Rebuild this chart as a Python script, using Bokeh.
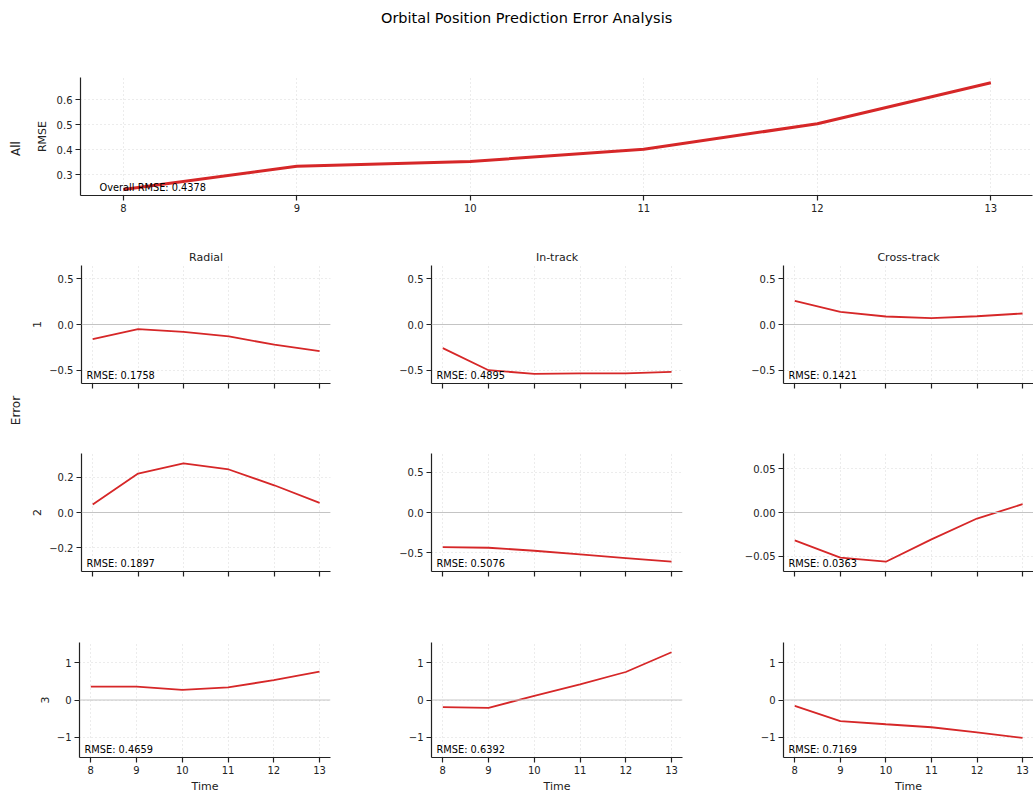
import math
from bokeh.plotting import figure
from bokeh.layouts import row, column
from bokeh.models import Range1d, FixedTicker, CustomJSTickFormatter, Span
from bokeh.core.properties import value
from bokeh.embed import file_html
from bokeh.resources import INLINE

# ---------------- data ----------------
title_text = "Orbital Position Prediction Error Analysis"
times = [8, 9, 10, 11, 12, 13]
rmse_all = [0.240, 0.333, 0.352, 0.401, 0.503, 0.667]
overall_label = "Overall RMSE: 0.4378"
components = ["Radial", "In-track", "Cross-track"]
row_names = ["1", "2", "3"]

radial_1 = [-0.16, -0.05, -0.08, -0.13, -0.22, -0.29]
intrack_1 = [-0.258, -0.498, -0.538, -0.532, -0.532, -0.516]
cross_1 = [0.258, 0.138, 0.087, 0.069, 0.090, 0.120]
radial_2 = [0.045, 0.222, 0.280, 0.245, 0.155, 0.055]
intrack_2 = [-0.428, -0.436, -0.473, -0.519, -0.564, -0.609]
cross_2 = [-0.0318, -0.0517, -0.0563, -0.0307, -0.0069, 0.0095]
radial_3 = [0.356, 0.356, 0.270, 0.340, 0.530, 0.760]
intrack_3 = [-0.19, -0.21, 0.11, 0.42, 0.75, 1.28]
cross_3 = [-0.16, -0.565, -0.65, -0.73, -0.865, -1.015]

rmse_labels = [
    ["RMSE: 0.1758", "RMSE: 0.4895", "RMSE: 0.1421"],
    ["RMSE: 0.1897", "RMSE: 0.5076", "RMSE: 0.0363"],
    ["RMSE: 0.4659", "RMSE: 0.6392", "RMSE: 0.7169"],
]
series = [
    [radial_1, intrack_1, cross_1],
    [radial_2, intrack_2, cross_2],
    [radial_3, intrack_3, cross_3],
]
y_limits = [
    [0.643, 0.643, 0.643],
    [0.336, 0.73, 0.0675],
    [1.54, 1.54, 1.54],
]
y_ticks = [
    [[-0.5, 0, 0.5]] * 3,
    [[-0.2, 0, 0.2], [-0.5, 0, 0.5], [-0.05, 0, 0.05]],
    [[-1, 0, 1]] * 3,
]
y_decimals = [[1, 1, 1], [1, 1, 2], [0, 0, 0]]
top_y_ticks = [0.3, 0.4, 0.5, 0.6]
top_y_range = (0.216, 0.688)
x_range_lim = (7.753, 13.24)

# ---------------- style ----------------
RED = "#d62728"
INK = "#222222"
FONT = "DejaVu Sans"

FMT = """
const s = Math.abs(tick).toFixed(decimals);
return (tick < -1e-12 ? '\\u2212' : '') + s;
"""


def base_fig(width, height, left, right, top, bottom, xr, yr):
    p = figure(width=width, height=height,
               x_range=Range1d(*xr), y_range=Range1d(*yr),
               toolbar_location=None, output_backend="svg",
               min_border_left=left, min_border_right=right,
               min_border_top=top, min_border_bottom=bottom)
    p.outline_line_color = None
    p.background_fill_color = "white"
    p.border_fill_color = "white"
    return p


def style_axes(p):
    for ax in p.axis:
        ax.axis_line_color = INK
        ax.axis_line_width = 1.2
        ax.major_tick_line_color = INK
        ax.major_tick_line_width = 1.2
        ax.major_tick_out = 5
        ax.major_tick_in = 0
        ax.minor_tick_out = 0
        ax.minor_tick_in = 0
        ax.major_label_text_font_size = "10px"
        ax.major_label_text_color = INK
        ax.major_label_text_font = FONT
        ax.major_label_standoff = 3
        ax.axis_label_text_font_size = "11px"
        ax.axis_label_text_font_style = "normal"
        ax.axis_label_text_font = FONT
        ax.axis_label_text_color = INK
        ax.axis_label_standoff = 5
    for g in p.grid:
        g.grid_line_color = "#c8c8c8"
        g.grid_line_alpha = 0.7
        g.grid_line_dash = "1 3"
        g.grid_line_width = 1


def set_ticks(p, xt, yt, ydec, xlabels=True):
    p.xaxis.ticker = FixedTicker(ticks=xt)
    p.xgrid.ticker = FixedTicker(ticks=xt)
    p.yaxis.ticker = FixedTicker(ticks=yt)
    p.ygrid.ticker = FixedTicker(ticks=yt)
    p.yaxis.formatter = CustomJSTickFormatter(args=dict(decimals=ydec), code=FMT)
    if xlabels:
        p.xaxis.formatter = CustomJSTickFormatter(args=dict(decimals=0), code=FMT)
    else:
        p.xaxis.formatter = CustomJSTickFormatter(code="return '';")


def corner_text(p, txt, xr, yr, size="9.8px"):
    tx = xr[0] + 0.02 * (xr[1] - xr[0])
    ty = yr[0] + 0.05 * (yr[1] - yr[0])
    p.text(x=[tx], y=[ty], text=[txt], text_font=value(FONT),
           text_font_size=value(size), text_color="black",
           text_align="left", text_baseline="alphabetic", y_offset=-2)


def blank_fig(width, height, xr, yr):
    p = figure(width=width, height=height, x_range=Range1d(*xr), y_range=Range1d(*yr),
               toolbar_location=None, output_backend="svg", min_border=0,
               x_axis_location=None, y_axis_location=None)
    p.grid.visible = False
    p.outline_line_color = None
    return p


# ---------------- left strip ----------------
strip = blank_fig(30, 795, (0, 30), (795, 0))
strip.text(x=[15, 15], y=[148, 410], text=["All", "Error"], angle=math.pi / 2,
           text_font=value(FONT), text_font_size=value("12px"), text_color=INK,
           text_align="center", text_baseline="middle")

MAIN_W = 1003

# ---------------- header ----------------
header = blank_fig(MAIN_W, 40, (0, MAIN_W), (40, 0))
header.text(x=[470], y=[17], text=[title_text], text_font=value(FONT),
            text_font_size=value("14.5px"), text_color="black",
            text_align="center", text_baseline="middle")

# ---------------- top RMSE panel ----------------
top = base_fig(MAIN_W, 195, 50, 1, 37, 40, x_range_lim, top_y_range)
top.line(times, rmse_all, line_color=RED, line_width=3)
top.yaxis.axis_label = "RMSE"
style_axes(top)
set_ticks(top, times, top_y_ticks, 1, xlabels=True)
corner_text(top, overall_label, x_range_lim, top_y_range)

# ---------------- grid of panels ----------------
col_geom = [(352, 49, 52), (351, 49, 51), (300, 50, 0)]
row_geom = [(183, 30, 35), (188, 35, 35), (189, 36, 35)]

rows = []
for r in range(3):
    figs = []
    h, bt, bb = row_geom[r]
    for c in range(3):
        w, bl, br = col_geom[c]
        lim = y_limits[r][c]
        yr = (-lim, lim)
        p = base_fig(w, h, bl, br, bt, bb, x_range_lim, yr)
        p.add_layout(Span(location=0, dimension="width", line_color="#c4c4c4",
                          line_width=1))
        p.line(times, series[r][c], line_color=RED, line_width=1.8)
        if c == 0:
            p.yaxis.axis_label = row_names[r]
        if r == 0:
            p.title.text = components[c]
            p.title.align = "center"
            p.title.text_font_size = "11px"
            p.title.text_font_style = "normal"
            p.title.text_font = FONT
            p.title.text_color = INK
            p.title.standoff = 3
        if r == 2:
            p.xaxis.axis_label = "Time"
        style_axes(p)
        if r == 2:
            p.xaxis.axis_label_standoff = 3
        set_ticks(p, times, y_ticks[r][c], y_decimals[r][c], xlabels=(r == 2))
        corner_text(p, rmse_labels[r][c], x_range_lim, yr)
        figs.append(p)
    rows.append(row(*figs))

main = column(header, top, *rows)
layout = row(strip, main)

open("out.html", "w").write(file_html(layout, INLINE))
